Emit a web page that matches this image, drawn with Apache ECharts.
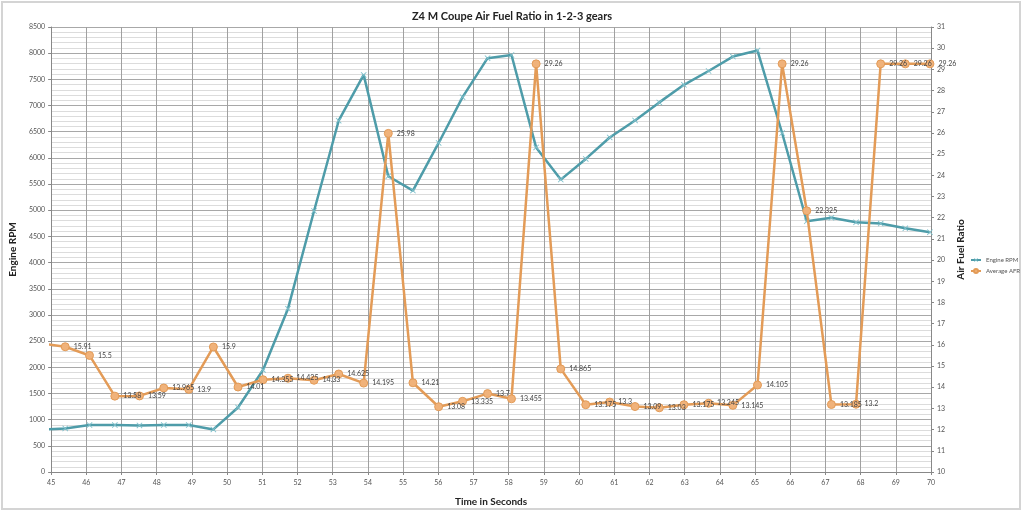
<!DOCTYPE html>
<html>
<head>
<meta charset="utf-8">
<script src="https://cdn.jsdelivr.net/npm/echarts@6/dist/echarts.min.js"></script>
<style>
  html, body { margin: 0; padding: 0; background: #fff; }
  #chart { width: 1024px; height: 512px; }
</style>
</head>
<body>
<div id="chart"></div>
<script>
// time of each sample, seconds (first one sits just left of the axis and gets clipped)
var times = [44.70, 45.40, 46.09, 46.81, 47.51, 48.20, 48.91, 49.61, 50.31, 51.02,
             51.73, 52.47, 53.17, 53.88, 54.58, 55.28, 56.01, 56.69, 57.40, 58.08,
             58.78, 59.48, 60.19, 60.87, 61.59, 62.28, 62.98, 63.68, 64.37, 65.07,
             65.77, 66.47, 67.17, 67.87, 68.57, 69.27, 69.97];
var engineRpm = [810, 833, 896, 896, 890, 896, 896, 813, 1233, 1950,
                 3120, 4985, 6710, 7585, 5650, 5375, 6285, 7160, 7905, 7965,
                 6200, 5585, 5980, 6390, 6715, 7060, 7395, 7660, 7935, 8050,
                 6475, 4790, 4855, 4770, 4745, 4655, 4580];
var averageAfr = [16.07, 15.91, 15.5, 13.58, 13.59, 13.965, 13.9, 15.9, 14.01, 14.355,
                  14.425, 14.33, 14.625, 14.195, 25.98, 14.21, 13.08, 13.335, 13.7, 13.455,
                  29.26, 14.865, 13.175, 13.3, 13.09, 13.03, 13.175, 13.245, 13.145, 14.105,
                  29.26, 22.325, 13.185, 13.2, 29.26, 29.26, 29.26];

var xMin = 45, xMax = 70;

function pairs(ys) {
  var out = [];
  for (var i = 0; i < times.length; i++) {
    out.push([times[i], ys[i]]);
  }
  return out;
}

var chart = echarts.init(document.getElementById('chart'));

var option = {
  backgroundColor: '#fff',
  animation: false,
  textStyle: { fontFamily: 'Lato, "Open Sans", sans-serif' },
  title: {
    text: 'Z4 M Coupe Air Fuel Ratio in 1-2-3 gears',
    left: 'center',
    top: 6,
    textStyle: { fontSize: 11, fontWeight: 'bold', color: '#222', fontFamily: 'Lato, sans-serif' }
  },
  graphic: [{
    type: 'rect',
    shape: { x: 2, y: 2, width: 1018, height: 507 },
    style: { fill: 'none', stroke: '#d4d4d4', lineWidth: 2 },
    silent: true
  }],
  legend: {
    orient: 'vertical',
    left: 970,
    top: 257,
    padding: 0,
    itemWidth: 10,
    itemHeight: 5,
    itemGap: 5,
    textStyle: { fontSize: 6, color: '#555' },
    data: ['Engine RPM', 'Average AFR']
  },
  grid: { left: 43, right: 93, top: 27, bottom: 39 },
  xAxis: {
    type: 'value',
    min: xMin,
    max: xMax,
    interval: 1,
    name: 'Time in Seconds',
    nameLocation: 'middle',
    nameGap: 25,
    nameTextStyle: { fontSize: 10, fontWeight: 'bold', color: '#222' },
    axisLine: { lineStyle: { color: '#888' } },
    axisTick: { show: true, length: 3, lineStyle: { color: '#888' } },
    axisLabel: { fontSize: 7, color: '#555', margin: 7 },
    splitLine: { show: true, lineStyle: { color: '#a0a0a0', width: 1 } }
  },
  yAxis: [{
    type: 'value',
    min: 0,
    max: 8500,
    interval: 500,
    name: 'Engine RPM',
    nameLocation: 'middle',
    nameGap: 30,
    nameTextStyle: { fontSize: 10, fontWeight: 'bold', color: '#222' },
    axisLine: { show: true, lineStyle: { color: '#888' } },
    axisTick: { show: true, length: 3, lineStyle: { color: '#888' } },
    axisLabel: { fontSize: 7, color: '#555', margin: 6, formatter: function (v) { return String(v); } },
    splitLine: { show: true, lineStyle: { color: '#a8a8a8', width: 1 } },
    minorTick: { show: false, splitNumber: 5 },
    minorSplitLine: { show: true, lineStyle: { color: '#dcdcdc', width: 1 } }
  }, {
    type: 'value',
    min: 10,
    max: 31,
    interval: 1,
    position: 'right',
    name: 'Air Fuel Ratio',
    nameLocation: 'middle',
    nameGap: 22,
    nameTextStyle: { fontSize: 10, fontWeight: 'bold', color: '#222' },
    axisLine: { show: true, lineStyle: { color: '#888' } },
    axisTick: { show: true, length: 3, lineStyle: { color: '#888' } },
    axisLabel: { fontSize: 7, color: '#555', margin: 6 },
    splitLine: { show: false }
  }],
  series: [{
    name: 'Engine RPM',
    type: 'line',
    yAxisIndex: 0,
    clip: true,
    data: pairs(engineRpm),
    symbol: 'path://M0,1L1,0L5,4L9,0L10,1L6,5L10,9L9,10L5,6L1,10L0,9L4,5Z',
    symbolSize: 6,
    lineStyle: { color: '#4e9ca9', width: 2.5 },
    itemStyle: { color: '#7fc0cb' },
    z: 2
  }, {
    name: 'Average AFR',
    type: 'line',
    yAxisIndex: 1,
    clip: true,
    data: pairs(averageAfr),
    symbol: 'circle',
    symbolSize: 8,
    lineStyle: { color: '#e39b57', width: 2.5 },
    itemStyle: { color: '#f0b27a', borderColor: '#e39b57', borderWidth: 1 },
    label: {
      show: true,
      position: 'right',
      distance: 4,
      fontSize: 7,
      color: '#444',
      formatter: function (p) {
        return p.value[0] < xMin ? '' : String(p.value[1]);
      }
    },
    z: 3
  }]
};

chart.setOption(option);
</script>
</body>
</html>
